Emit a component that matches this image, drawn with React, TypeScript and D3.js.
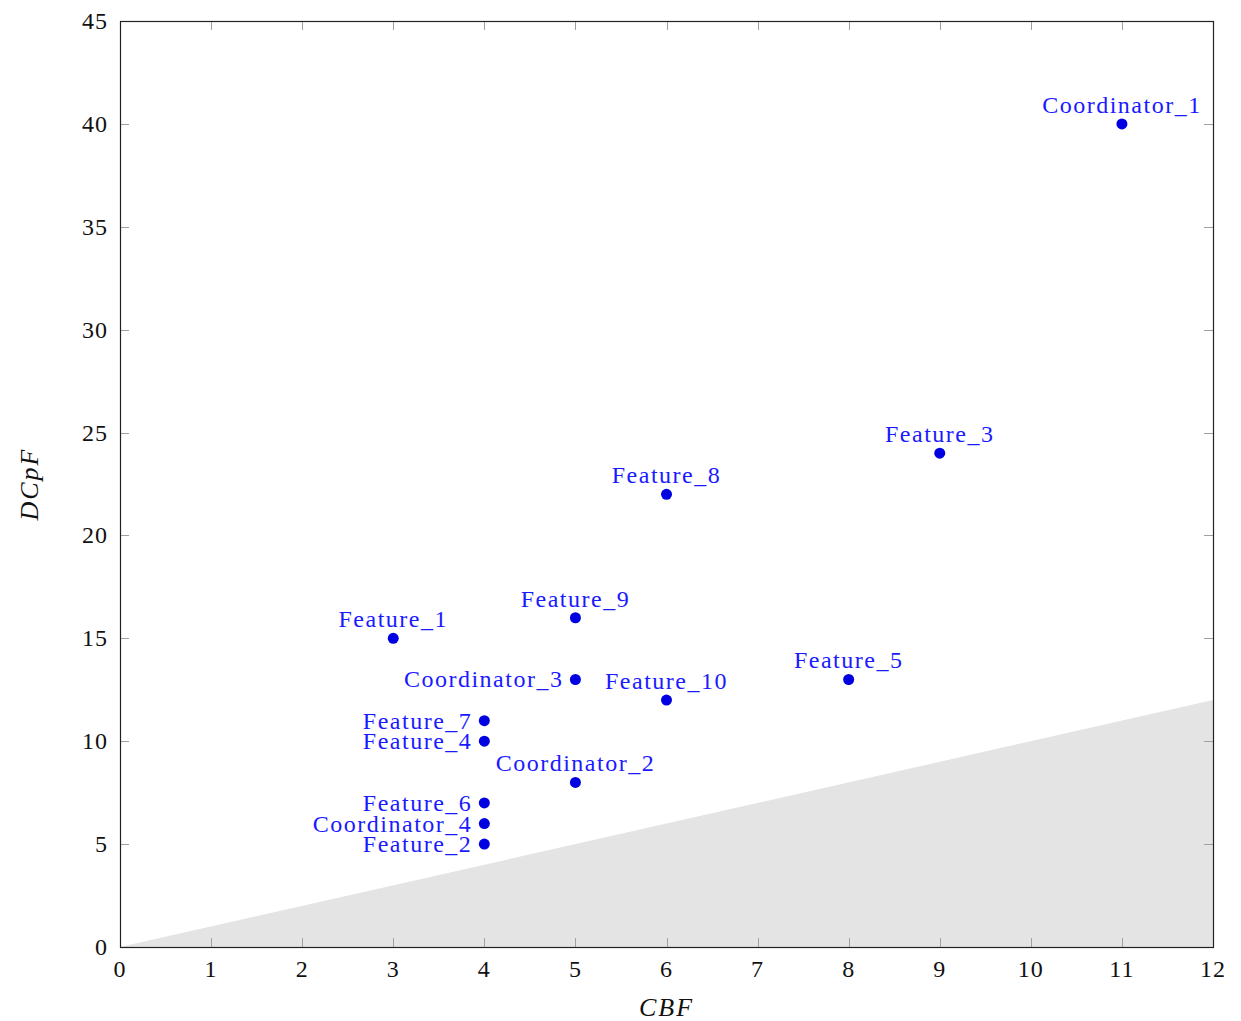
import { useEffect, useRef } from 'react';
import * as d3 from 'd3';

const names = [
  'Coordinator_1', 'Feature_3', 'Feature_8', 'Feature_9', 'Feature_1',
  'Coordinator_3', 'Feature_10', 'Feature_5', 'Feature_7', 'Feature_4',
  'Coordinator_2', 'Feature_6', 'Coordinator_4', 'Feature_2',
];
const cbf = [11, 9, 6, 5, 3, 5, 6, 8, 4, 4, 5, 4, 4, 4];
const dcpf = [40, 24, 22, 16, 15, 13, 12, 13, 11, 10, 8, 7, 6, 5];
// where the label sits relative to its point
const labelPos = [
  'above', 'above', 'above', 'above', 'above',
  'left', 'above', 'above', 'left', 'left',
  'above', 'left', 'left', 'left',
];
const xTicks = [0, 1, 2, 3, 4, 5, 6, 7, 8, 9, 10, 11, 12];
const yTicks = [0, 5, 10, 15, 20, 25, 30, 35, 40, 45];
// shaded region under the line DCpF = CBF
const boundX = [0, 12];
const boundY = [0, 12];

const W = 1241;
const H = 1021;
const FONT = "'Liberation Serif', 'DejaVu Serif', serif";

export default function App() {
  const svgRef = useRef<SVGSVGElement>(null);

  useEffect(() => {
    if (!svgRef.current) return;
    const svg = d3.select(svgRef.current);
    svg.selectAll('*').remove();

    const left = 120;
    const right = 1213;
    const top = 21;
    const bottom = 947;

    const x = d3.scaleLinear().domain([0, 12]).range([left, right]);
    const y = d3.scaleLinear().domain([0, 45]).range([bottom, top]);

    const area = d3
      .area<number>()
      .x((_, i) => x(boundX[i]))
      .y0(y(0))
      .y1((d) => y(d));

    svg
      .append('path')
      .attr('d', area(boundY))
      .attr('fill', '#e4e4e4');

    const tickLen = 9;
    const ticks = svg.append('g').attr('stroke', '#a0a0a0').attr('stroke-width', 1);
    xTicks.forEach((t) => {
      const px = Math.round(x(t)) + 0.5;
      ticks.append('line').attr('x1', px).attr('x2', px).attr('y1', bottom).attr('y2', bottom - tickLen);
      ticks.append('line').attr('x1', px).attr('x2', px).attr('y1', top).attr('y2', top + tickLen);
    });
    yTicks.forEach((t) => {
      const py = Math.round(y(t)) + 0.5;
      ticks.append('line').attr('x1', left).attr('x2', left + tickLen).attr('y1', py).attr('y2', py);
      ticks.append('line').attr('x1', right).attr('x2', right - tickLen).attr('y1', py).attr('y2', py);
    });

    svg
      .append('rect')
      .attr('x', left + 0.5)
      .attr('y', top + 0.5)
      .attr('width', right - left)
      .attr('height', bottom - top)
      .attr('fill', 'none')
      .attr('stroke', '#222')
      .attr('stroke-width', 1.2);

    const labels = svg
      .append('g')
      .attr('font-family', FONT)
      .attr('font-size', 24)
      .attr('letter-spacing', '1px')
      .attr('fill', '#111');
    xTicks.forEach((t) => {
      labels
        .append('text')
        .attr('x', x(t))
        .attr('y', bottom + 30)
        .attr('text-anchor', 'middle')
        .text(t);
    });
    yTicks.forEach((t) => {
      labels
        .append('text')
        .attr('x', left - 12)
        .attr('y', y(t) + 8)
        .attr('text-anchor', 'end')
        .text(t);
    });

    svg
      .append('text')
      .attr('x', (left + right) / 2)
      .attr('y', 1016)
      .attr('text-anchor', 'middle')
      .attr('font-family', FONT)
      .attr('font-style', 'italic')
      .attr('font-size', 26)
      .attr('letter-spacing', '2px')
      .attr('fill', '#111')
      .text('CBF');

    svg
      .append('text')
      .attr('transform', `translate(38,${(top + bottom) / 2}) rotate(-90)`)
      .attr('text-anchor', 'middle')
      .attr('font-family', FONT)
      .attr('font-style', 'italic')
      .attr('font-size', 26)
      .attr('letter-spacing', '2px')
      .attr('fill', '#111')
      .text('DCpF');

    const pts = svg.append('g');
    names.forEach((name, i) => {
      const px = x(cbf[i]);
      const py = y(dcpf[i]);
      pts.append('circle').attr('cx', px).attr('cy', py).attr('r', 5.5).attr('fill', '#0000e0');
      const t = pts
        .append('text')
        .attr('font-family', FONT)
        .attr('font-size', 24)
        .attr('letter-spacing', '1.5px')
        .attr('fill', '#1a1aff')
        .text(name);
      if (labelPos[i] === 'left') {
        t.attr('x', px - 12).attr('y', py + 8).attr('text-anchor', 'end');
      } else {
        t.attr('x', px).attr('y', py - 11).attr('text-anchor', 'middle');
      }
    });
  }, []);

  return (
    <svg
      ref={svgRef}
      width={W}
      height={H}
      style={{ position: 'absolute', left: 0, top: 0, display: 'block' }}
    />
  );
}
